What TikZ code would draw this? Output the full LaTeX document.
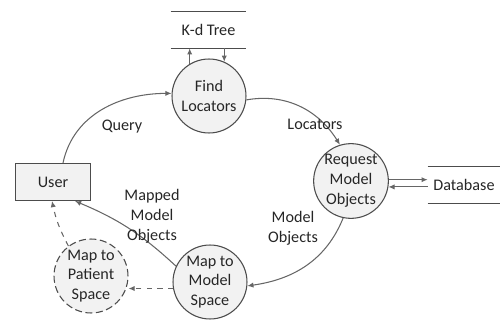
\documentclass[tikz,border=0pt]{standalone}
\usepackage{fontspec}
\setmainfont{Carlito}
\usetikzlibrary{arrows.meta}
\begin{document}
\begin{tikzpicture}[x=0.02cm, y=0.02cm,
        every node/.style={font=\fontsize{9.2}{11.3}\selectfont, text=black!85},
        process/.style={circle, draw=black!70, fill=black!5, line width=0.6pt,
            minimum size=1.48cm, inner sep=0pt, align=center},
        flow/.style={draw=black!60, line width=0.6pt, -{Latex[length=3.5pt, width=3pt]}},
        store/.style={minimum height=0.72cm, inner sep=0pt},
        lbl/.style={align=center}]
    \useasboundingbox (0, 0) rectangle (500, 321);

    % processes
    \node[process] (find) at (209, 225) {Find\\Locators};
    \node[process] (request) at (351, 140) {Request\\Model\\Objects};
    \node[process] (mapmodel) at (210, 39) {Map to\\Model\\Space};
    \node[process, dashed, dash pattern=on 4pt off 2pt] (mappatient) at (91, 45) {Map to\\Patient\\Space};

    % external entity
    \node[draw=black!70, fill=black!5, line width=0.6pt,
        minimum width=1.5cm, minimum height=0.74cm] (user) at (53, 139) {User};

    % data stores
    \node[store, minimum width=1.5cm] (kdtree) at (208.5, 291) {K-d Tree};
    \draw[black!70, line width=0.6pt] (kdtree.north west) -- (kdtree.north east);
    \draw[black!70, line width=0.6pt] (kdtree.south west) -- (kdtree.south east);

    \node[store, minimum width=1.44cm] (database) at (464, 136) {Database};
    \draw[black!70, line width=0.6pt] (database.north west) -- (database.north east);
    \draw[black!70, line width=0.6pt] (database.south west) -- (database.south east);

    % flows
    \draw[flow] (find.121) -- (find.121 |- kdtree.south);
    \draw[flow] (kdtree.south -| find.66) -- (find.66);
    \draw[flow] (request.2) -- (request.2 -| database.west);
    \draw[flow] (database.west |- request.-9) -- (request.-9);

    \draw[flow] ([xshift=0.2cm]user.north) to[out=78, in=180] (find.176);
    \draw[flow] (find.-6) to[out=10, in=122] (request.107);
    \draw[flow] (request.258) to[out=-112, in=8] (mapmodel.-6);
    \draw[flow] (mapmodel.155) to[bend right=10] ([xshift=0.44cm]user.south);
    \draw[flow, dashed] (mapmodel.190) -- (mapmodel.190 -| mappatient.east);
    \draw[flow, dashed] (mappatient.127) to[bend left=8] ([xshift=-0.02cm]user.south);

    % labels
    \node[lbl] (querylbl) at (122, 194) {Query};
    \node[lbl] (locatorslbl) at (315, 197) {Locators};
    \node[lbl] (objectslbl) at (293, 93) {Model\\Objects};
    \node[lbl] (mappedlbl) at (152, 105) {Mapped\\Model\\Objects};
\end{tikzpicture}
\end{document}
